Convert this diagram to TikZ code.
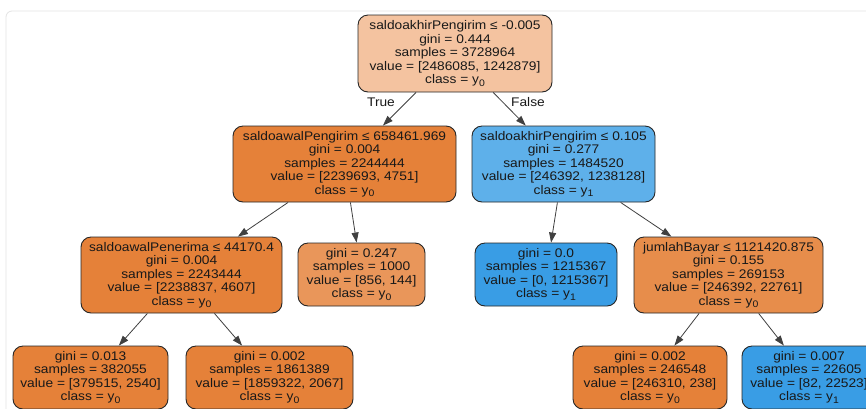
\documentclass[tikz,border=0pt]{standalone}
\usepackage{fontspec}
\setmainfont{Liberation Sans}[FakeStretch=1.1]
\usetikzlibrary{arrows.meta}
\definecolor{orfull}{HTML}{E58139}
\definecolor{orroot}{HTML}{F4C3A0}
\definecolor{orlight}{HTML}{E9965A}
\definecolor{ormid}{HTML}{E78D4B}
\definecolor{blfull}{HTML}{399DE5}
\definecolor{blmid}{HTML}{5EB0EA}
\definecolor{framegray}{HTML}{E4E4E4}
\newcommand\subidx[1]{\raisebox{-2.5pt}{\fontsize{9.5}{9.5}\selectfont #1}}
\begin{document}
\begin{tikzpicture}[x=1pt,y=-1pt,
  box/.style={draw=black!85, line width=0.9pt, rounded corners=10pt, inner sep=0pt,
    align=center, text=black!90, font=\fontsize{12.5}{13.5}\selectfont},
  edge/.style={draw=black!75, line width=0.8pt, -{Triangle[length=10pt,width=7pt]}},
  lbl/.style={inner sep=0pt, text=black!90, font=\fontsize{12.5}{13.5}\selectfont}]
\useasboundingbox (0,0) rectangle (866,408);
\clip (0,0) rectangle (866,408);
\fill[white] (0,0) rectangle (866,408);
\draw[framegray, line width=0.8pt, rounded corners=6pt] (6,11) rectangle (900,450);

\node[box, fill=orroot, minimum width=194pt, minimum height=77pt] (root) at (455,53.5)
  {saldoakhirPengirim ≤ -0.005\\gini = 0.444\\samples = 3728964\\value = [2486085, 1242879]\\class = y\subidx{0}};

\node[box, fill=orfull, minimum width=223pt, minimum height=76pt] (l1) at (344.5,164)
  {saldoawalPengirim ≤ 658461.969\\gini = 0.004\\samples = 2244444\\value = [2239693, 4751]\\class = y\subidx{0}};

\node[box, fill=blmid, minimum width=183pt, minimum height=76pt] (r1) at (563.5,164)
  {saldoakhirPengirim ≤ 0.105\\gini = 0.277\\samples = 1484520\\value = [246392, 1238128]\\class = y\subidx{1}};

\node[box, fill=orfull, minimum width=201pt, minimum height=76pt] (ll) at (181.5,275)
  {saldoawalPenerima ≤ 44170.4\\gini = 0.004\\samples = 2243444\\value = [2238837, 4607]\\class = y\subidx{0}};

\node[box, fill=orlight, minimum width=127pt, minimum height=63pt] (lr) at (361.5,274.5)
  {gini = 0.247\\samples = 1000\\value = [856, 144]\\class = y\subidx{0}};

\node[box, fill=blfull, minimum width=142pt, minimum height=63pt] (rl) at (546,274.5)
  {gini = 0.0\\samples = 1215367\\value = [0, 1215367]\\class = y\subidx{1}};

\node[box, fill=ormid, minimum width=189pt, minimum height=76pt] (rr) at (728.5,275)
  {jumlahBayar ≤ 1121420.875\\gini = 0.155\\samples = 269153\\value = [246392, 22761]\\class = y\subidx{0}};

\node[box, fill=orfull, minimum width=155pt, minimum height=63pt] (b1) at (90.5,377.5)
  {gini = 0.013\\samples = 382055\\value = [379515, 2540]\\class = y\subidx{0}};

\node[box, fill=orfull, minimum width=167pt, minimum height=63pt] (b2) at (269.5,377.5)
  {gini = 0.002\\samples = 1861389\\value = [1859322, 2067]\\class = y\subidx{0}};

\node[box, fill=orfull, minimum width=154pt, minimum height=63pt] (b3) at (650,377.5)
  {gini = 0.002\\samples = 246548\\value = [246310, 238]\\class = y\subidx{0}};

\node[box, fill=blfull, minimum width=134pt, minimum height=63pt] (b4) at (809,377.5)
  {gini = 0.007\\samples = 22605\\value = [82, 22523]\\class = y\subidx{1}};

\draw[edge] (root) -- (l1);
\draw[edge] (root) -- (r1);
\draw[edge] (l1) -- (ll);
\draw[edge] (l1) -- (lr);
\draw[edge] (r1) -- (rl);
\draw[edge] (r1) -- (rr);
\draw[edge] (ll) -- (b1);
\draw[edge] (ll) -- (b2);
\draw[edge] (rr) -- (b3);
\draw[edge] (rr) -- (b4);

\node[lbl] (tlab) at (381,102) {True};
\node[lbl] (flab) at (528,102) {False};
\end{tikzpicture}
\end{document}
